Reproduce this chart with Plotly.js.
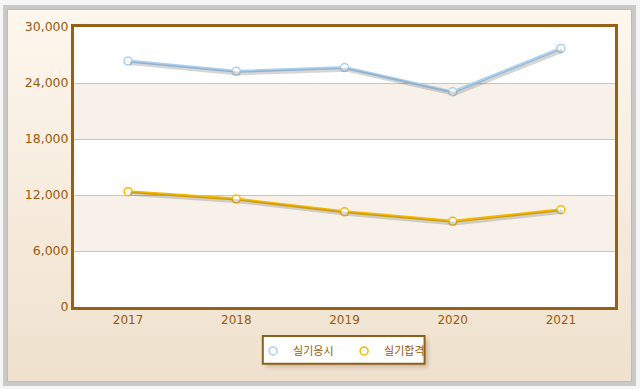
<!DOCTYPE html>
<html>
<head>
<meta charset="utf-8">
<script src="https://cdn.plot.ly/plotly-3.0.1.min.js"></script>
<style>
html,body{margin:0;padding:0;background:#f5f5f5;width:640px;height:389px;overflow:hidden;}
#frame{position:absolute;left:3px;top:5px;width:633px;height:381px;box-sizing:border-box;border:4px solid #c9c9c9;}
#panel{position:absolute;left:0;top:0;right:0;bottom:0;border:1px solid #cfb994;background:linear-gradient(#fef7ee,#efe1cd);}
#chart{position:absolute;left:0;top:0;width:640px;height:389px;}
#lgshadow{position:absolute;left:266px;top:339px;width:162px;height:28px;background:rgba(90,60,20,0.25);filter:blur(2px);}
</style>
</head>
<body>
<div id="frame"><div id="panel"></div></div>
<div id="lgshadow"></div>
<div id="chart"></div>
<script>
const years = ['2017','2018','2019','2020','2021'];
const applicants = [26350, 25250, 25650, 23050, 27700];
const passed = [12350, 11560, 10200, 9180, 10420];
const seriesNames = ['실기응시','실기합격'];
const yTicks = [0, 6000, 12000, 18000, 24000, 30000];
const yTickText = ['0','6,000','12,000','18,000','24,000','30,000'];

const blue = '#a9d0f0';
const gold = '#f5b800';
const shadowShift = 220;

const shapes = [];
for (let i = 0; i < yTicks.length - 1; i++) {
  if (i % 2 === 1) {
    shapes.push({type:'rect', xref:'paper', yref:'y', x0:0, x1:1, y0:yTicks[i], y1:yTicks[i+1],
      fillcolor:'#f8f1e9', line:{width:0}, layer:'below'});
  }
}
// legend box
shapes.push({type:'rect', xref:'paper', yref:'paper', x0:0.349, x1:0.648, y0:-0.203, y1:-0.104,
  fillcolor:'#ffffff', line:{color:'#8f5f1c', width:2}, layer:'below'});

const ln = (ys, color) => ({
  x: years, y: ys, type:'scatter', mode:'lines', showlegend:false,
  line:{color:color, width:3}, hoverinfo:'skip'
});
const mk = (name, ys, color) => ({
  x: years, y: ys, name: name, type:'scatter', mode:'markers',
  marker:{symbol:'circle', size:8, color:'#ffffff', line:{color:color, width:1.5}},
  hoverinfo:'x+y'
});
const sh = (ys) => ({
  x: years, y: ys, xaxis:'x2', yaxis:'y2', type:'scatter', mode:'lines', showlegend:false,
  line:{color:'rgba(70,70,70,0.22)', width:4}, hoverinfo:'skip'
});

const data = [sh(applicants), sh(passed), ln(applicants, blue), ln(passed, gold),
  mk(seriesNames[0], applicants, blue), mk(seriesNames[1], passed, gold)];

const layout = {
  width:640, height:389,
  margin:{l:74, r:25, t:27, b:82},
  paper_bgcolor:'rgba(0,0,0,0)',
  plot_bgcolor:'#ffffff',
  font:{family:"'DejaVu Sans', Verdana, sans-serif", size:12, color:'#9a5a0c'},
  showlegend:true,
  legend:{orientation:'h', x:0.331, xanchor:'left', y:-0.105, yanchor:'top',
    bgcolor:'rgba(0,0,0,0)', borderwidth:0,
    font:{family:"'Noto Sans CJK KR', sans-serif", size:11, color:'#9a5a0c'},
    itemwidth:30, entrywidth:46, entrywidthmode:'pixels', tracegroupgap:0},
  xaxis:{type:'category', range:[-0.5,4.5], showgrid:false, zeroline:false,
    showline:true, mirror:true, linecolor:'#94611b', linewidth:3,
    ticks:'', tickfont:{size:12, color:'#9a5a0c'}, fixedrange:true},
  yaxis:{range:[0,30000], tickvals:yTicks, ticktext:yTickText, showgrid:true,
    gridcolor:'#d9c4a6', gridwidth:1, zeroline:false,
    showline:true, mirror:true, linecolor:'#94611b', linewidth:3,
    ticks:'', ticklabelstandoff:0, tickfont:{size:12.5, color:'#9a5a0c'}, fixedrange:true},
  xaxis2:{type:'category', overlaying:'x', range:[-0.515,4.485], visible:false, fixedrange:true},
  yaxis2:{overlaying:'y', range:[shadowShift, 30000+shadowShift], visible:false, fixedrange:true},
  shapes:shapes
};
Plotly.newPlot('chart', data, layout, {displayModeBar:false, staticPlot:true});
</script>
</body>
</html>
